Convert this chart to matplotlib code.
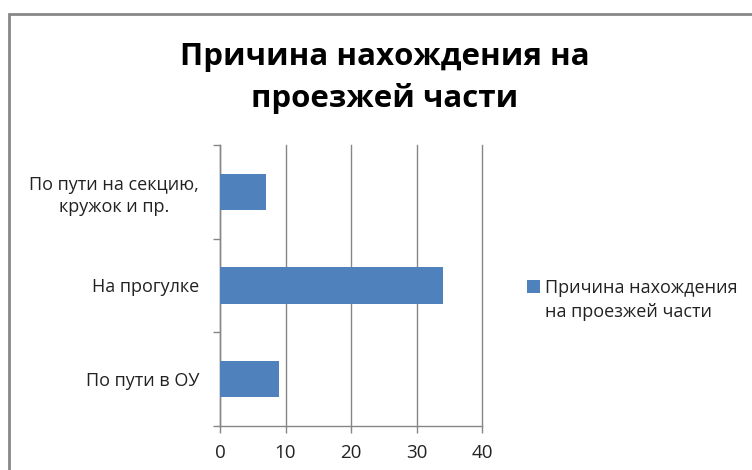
import matplotlib
matplotlib.use("Agg")
import matplotlib.pyplot as plt
from matplotlib.patches import Rectangle, Patch

categories = ["По пути в ОУ", "На прогулке", "По пути на секцию,\nкружок и пр."]
values = [9, 34, 7]
series_name = "Причина нахождения\nна проезжей части"
title = "Причина нахождения на\nпроезжей части"
xticks = [0, 10, 20, 30, 40]

W, H = 752, 470
fig = plt.figure(figsize=(W / 100, H / 100), dpi=100)
plt.rcParams['font.family'] = ['Open Sans', 'DejaVu Sans']

# chart border
fig.patches.append(Rectangle((8.5 / W, -0.05), (W - 8.5 + 20) / W, (H - 13.5) / H + 0.05,
                             transform=fig.transFigure, fill=False,
                             edgecolor="#878787", linewidth=2))

left, right, top, bottom = 220, 482, 145, 425.7
ax = fig.add_axes([left / W, (H - bottom) / H, (right - left) / W, (bottom - top) / H])

ypos = list(range(len(categories)))
ax.barh(ypos, values, height=0.39, color="#4F81BD", zorder=3)
ax.set_xlim(0, 40)
ax.set_ylim(-0.5, 2.5)
ax.set_xticks(xticks)
ax.set_xticklabels([str(t) for t in xticks], fontsize=13.5, color="#222222")
ax.set_yticks([-0.5, 0.5, 1.5, 2.5])
ax.set_yticklabels([])
ax.set_yticks(ypos, minor=True)
ax.set_yticklabels(categories, minor=True, fontsize=13, color="#222222",
                   multialignment="center", linespacing=1.3)
ax.tick_params(axis="y", which="minor", length=0, pad=15)
ax.tick_params(axis="y", which="major", length=5, color="#868686", width=1)
ax.tick_params(axis="x", length=5, color="#868686", width=1, pad=8)
ax.grid(axis="x", color="#868686", linewidth=1, zorder=0)
for gl in ax.get_xgridlines():
    gl.set_clip_on(False)
for s in ["top", "right"]:
    ax.spines[s].set_visible(False)
for s in ["left", "bottom"]:
    ax.spines[s].set_color("#868686")
    ax.spines[s].set_linewidth(1)

fig.text(385 / W, 1 - 78 / H, title, ha="center", va="center", fontsize=22.5,
         fontweight="bold", linespacing=1.42)

# legend: square aligned with first line of the wrapped series name
name_lines = series_name.split("\n")
handles = [Patch(facecolor="#4F81BD", label=name_lines[0])] + \
          [Patch(facecolor="none", edgecolor="none", label=l) for l in name_lines[1:]]
leg = fig.legend(handles=handles,
                 loc="center left", bbox_to_anchor=(511 / W, 1 - 300 / H),
                 frameon=False, fontsize=13, handlelength=0.7, handleheight=0.7,
                 handletextpad=0.3, labelspacing=0.35)
for t in leg.get_texts():
    t.set_color("#222222")

fig.savefig("out.png", dpi=100)
